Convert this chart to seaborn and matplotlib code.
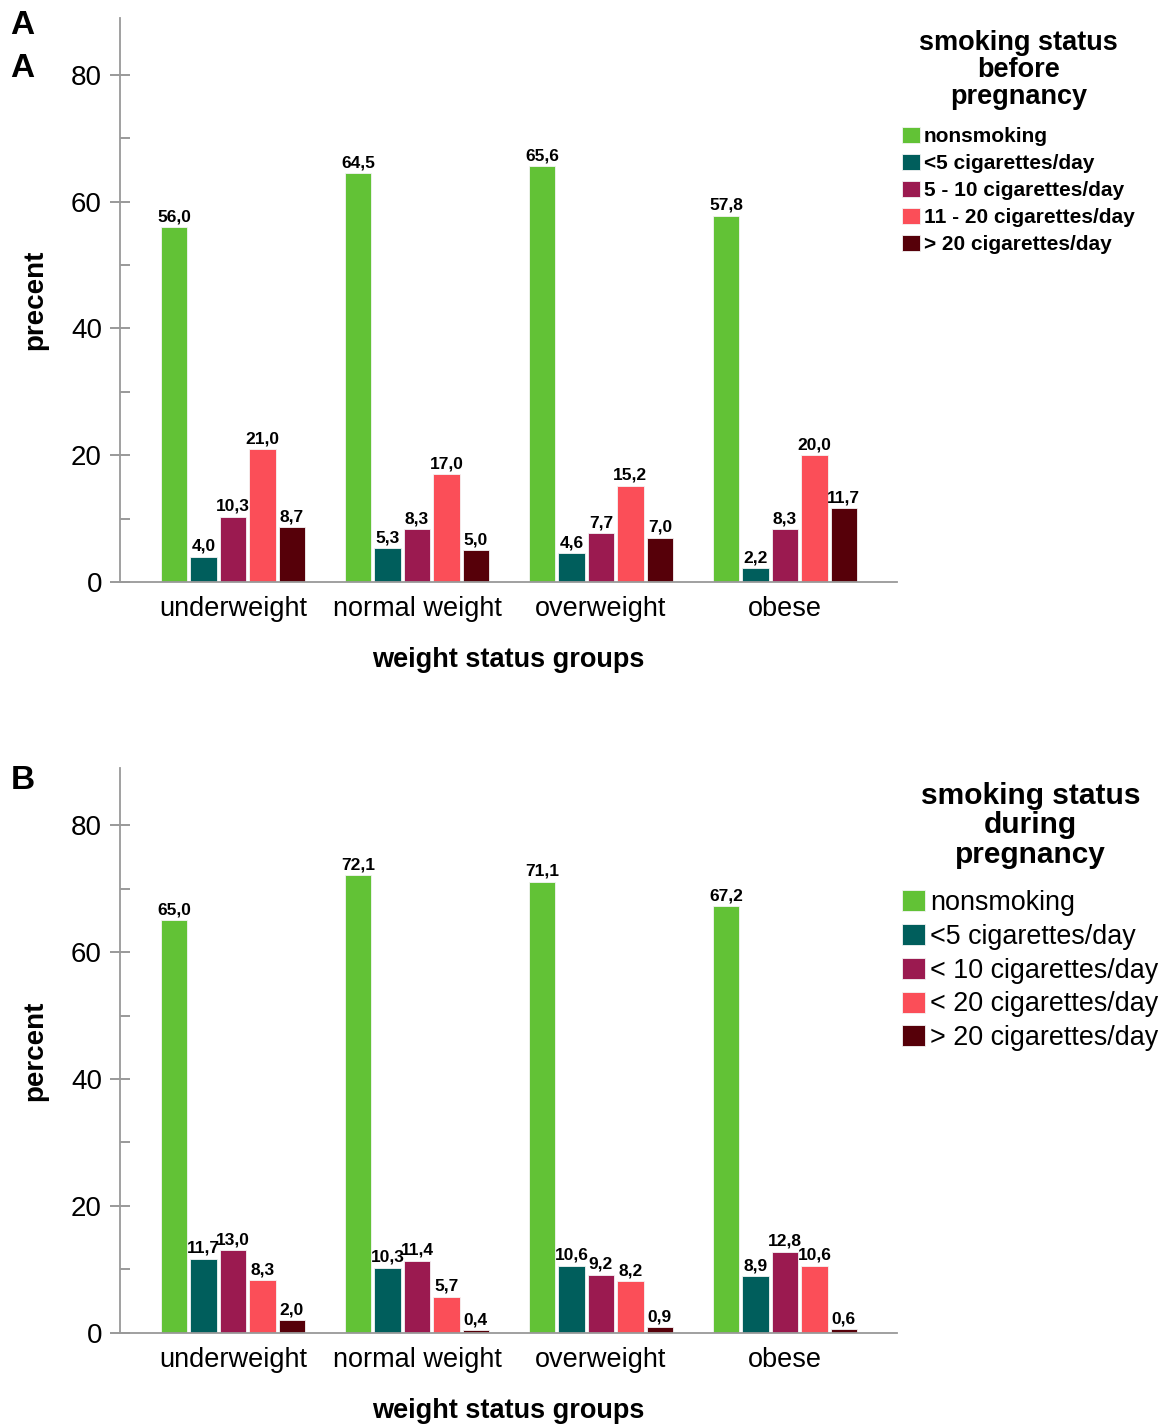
import matplotlib.pyplot as plt
import seaborn as sns
import pandas as pd

groups = ['underweight', 'normal weight', 'overweight', 'obese']

before_labels = ['nonsmoking', '<5 cigarettes/day', '5 - 10 cigarettes/day',
                 '11 - 20 cigarettes/day', '> 20 cigarettes/day']
during_labels = ['nonsmoking', '<5 cigarettes/day', '< 10 cigarettes/day',
                 '< 20 cigarettes/day', '> 20 cigarettes/day']

# rows = weight group, cols = smoking category
before_vals = [
    [56.0, 4.0, 10.3, 21.0, 8.7],
    [64.5, 5.3, 8.3, 17.0, 5.0],
    [65.6, 4.6, 7.7, 15.2, 7.0],
    [57.8, 2.2, 8.3, 20.0, 11.7],
]
during_vals = [
    [65.0, 11.7, 13.0, 8.3, 2.0],
    [72.1, 10.3, 11.4, 5.7, 0.4],
    [71.1, 10.6, 9.2, 8.2, 0.9],
    [67.2, 8.9, 12.8, 10.6, 0.6],
]

colors = ['#62c236', '#005e5c', '#9b1a50', '#fb4e58', '#560009']

sns.set_style('white')
plt.rcParams['font.family'] = ['Liberation Sans', 'DejaVu Sans']
plt.rcParams['text.color'] = 'black'
plt.rcParams['axes.labelcolor'] = 'black'
plt.rcParams['xtick.color'] = 'black'
plt.rcParams['ytick.color'] = 'black'


def make_df(vals, labels):
    rows = []
    for g, row in zip(groups, vals):
        for lab, v in zip(labels, row):
            rows.append({'group': g, 'status': lab, 'percent': v})
    return pd.DataFrame(rows)


def panel(ax, vals, labels, ylabel, title, title_size, leg_bold, leg_size,
          leg_y, lspace, tsep):
    df = make_df(vals, labels)
    sns.barplot(data=df, x='group', y='percent', hue='status', order=groups,
                hue_order=labels, palette=colors, saturation=1, gap=0.1,
                edgecolor='#f4f4f4', linewidth=0.6, ax=ax)
    for cont in ax.containers:
        ax.bar_label(cont, labels=[f'{v:.1f}'.replace('.', ',') for v in cont.datavalues],
                     padding=2, fontsize=12.5, fontweight='bold')
    ax.set_ylim(0, 89)
    ax.set_xlim(-0.614, 3.609)
    ax.set_yticks([0, 20, 40, 60, 80])
    ax.set_yticks([10, 30, 50, 70], minor=True)
    ax.tick_params(axis='y', which='major', left=True, direction='inout', length=14,
                   width=1.2, color='#888888', labelcolor='black', labelsize=20, pad=6)
    ax.tick_params(axis='y', which='minor', left=True, direction='in', length=7,
                   width=1.2, color='#888888')
    ax.tick_params(axis='x', length=0, labelsize=19.5, pad=10)
    for s in ['top', 'right']:
        ax.spines[s].set_visible(False)
    for s in ['left', 'bottom']:
        ax.spines[s].set_color('#999999')
        ax.spines[s].set_linewidth(1.3)
    ax.set_ylabel(ylabel, fontsize=20, fontweight='bold', labelpad=16)
    ax.set_xlabel('weight status groups', fontsize=19.5, fontweight='bold', labelpad=18)
    sns.move_legend(ax, 'upper left', bbox_to_anchor=(0.774, leg_y),
                    bbox_transform=ax.figure.transFigure, frameon=False,
                    title=title, alignment='center',
                    title_fontproperties={'weight': 'bold', 'size': title_size},
                    prop={'weight': 'bold' if leg_bold else 'normal', 'size': leg_size},
                    handlelength=0.82, handleheight=0.82, handletextpad=0.2,
                    labelspacing=lspace, borderpad=0, borderaxespad=0)
    leg = ax.get_legend()
    leg.get_title().set_multialignment('center')
    leg.get_title().set_linespacing(1.05)
    leg._legend_box.sep = tsep


fig = plt.figure(figsize=(11.66, 14.25), dpi=100)
ax1 = fig.add_axes([0.1029, 0.5916, 0.6664, 0.3958])
ax2 = fig.add_axes([0.1029, 0.0646, 0.6664, 0.3965])

panel(ax1, before_vals, before_labels, 'precent',
      'smoking status\nbefore\npregnancy', 19.5, True, 15, 0.979, 0.37, 12)
panel(ax2, during_vals, during_labels, 'percent',
      'smoking status\nduring\npregnancy', 21.5, False, 19.4, 0.451, 0.29, 15.5)

fig.text(0.009, 0.982, 'A', fontsize=24, fontweight='bold', va='center')
fig.text(0.009, 0.952, 'A', fontsize=24, fontweight='bold', va='center')
fig.text(0.009, 0.452, 'B', fontsize=24, fontweight='bold', va='center')

fig.savefig('out.png', dpi=100)
plt.close(fig)
